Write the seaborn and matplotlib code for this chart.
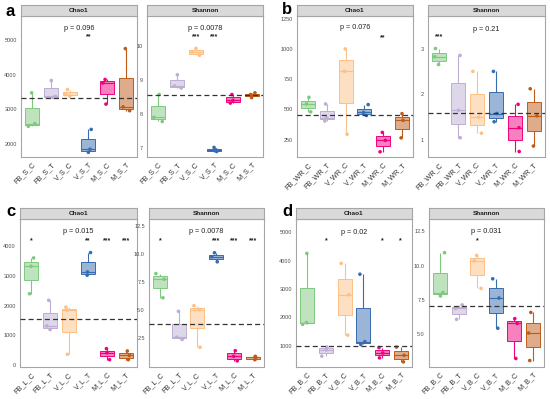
import numpy as np
import pandas as pd
import matplotlib
matplotlib.use("Agg")
import matplotlib.pyplot as plt
import seaborn as sns
from matplotlib.colors import to_rgba

sns.set_style("white")
plt.rcParams['font.family'] = ['Liberation Sans', 'DejaVu Sans']

palette = ["#7fc97f", "#beaed4", "#fdc086", "#386cb0", "#f0027f", "#bf5b17"]
facets = ["Chao1", "Shannon"]

# ---------------- data ----------------
a_groups = ["FB_S_C", "FB_S_T", "V_S_C", "V_S_T", "M_S_C", "M_S_T"]
a_chao1 = [[2510, 2590, 3475], [3340, 3370, 3830], [3380, 3420, 3570],
           [1760, 1850, 2420], [3150, 3760, 3860], [2960, 3070, 4750]]
a_shannon = [[7.78, 7.90, 8.57], [8.76, 8.82, 9.15], [9.72, 9.82, 9.92],
             [6.90, 6.95, 7.02], [8.32, 8.40, 8.57], [8.48, 8.57, 8.62]]
a_pvals = ["p = 0.096", "p = 0.0078"]
a_stars = [["", "", "", "**", "", ""], ["", "", "***", "***", "", ""]]
a_hline = [3317, 8.55]

b_groups = ["FB_WR_C", "FB_WR_T", "V_WR_C", "V_WR_T", "M_WR_C", "M_WR_T"]
b_chao1 = [[480, 545, 600], [405, 430, 545], [295, 815, 1000],
           [450, 475, 540], [150, 245, 310], [265, 410, 465]]
b_shannon = [[2.65, 2.82, 3.00], [1.05, 1.65, 2.85], [1.15, 1.50, 2.50],
             [1.40, 1.58, 2.50], [0.75, 1.27, 1.78], [0.87, 1.53, 2.12]]
b_pvals = ["p = 0.076", "p = 0.21"]
b_stars = [["", "", "", "", "**", ""], ["***", "", "", "", "", ""]]
b_hline = [458, 1.60]

c_groups = ["FB_L_C", "FB_L_T", "V_L_C", "V_L_T", "M_L_C", "M_L_T"]
c_chao1 = [[2400, 3320, 3600], [1200, 1320, 2180], [370, 1850, 1950],
           [3020, 3130, 3780], [190, 420, 560], [190, 330, 480]]
c_shannon = [[6.10, 7.75, 8.25], [2.40, 2.60, 4.90], [1.70, 5.05, 5.40],
             [9.30, 9.75, 10.10], [0.50, 0.90, 1.40], [0.60, 0.80, 0.90]]
c_pvals = ["p = 0.015", "p = 0.0078"]
c_stars = [["*", "", "", "**", "***", "***"], ["*", "", "", "***", "***", "***"]]
c_hline = [1540, 3.73]

d_groups = ["FB_B_C", "FB_B_T", "V_B_C", "V_B_T", "M_B_C", "M_B_T"]
d_chao1 = [[1760, 1820, 4250], [640, 860, 960], [1380, 2800, 3900],
           [1050, 1150, 3520], [580, 750, 940], [440, 670, 960]]
d_shannon = [[7.80, 8.05, 10.95], [6.10, 6.90, 7.15], [8.35, 10.35, 10.75],
             [5.45, 7.65, 9.05], [3.25, 5.80, 6.15], [3.10, 5.10, 6.60]]
d_pvals = ["p = 0.02", "p = 0.031"]
d_stars = [["", "*", "", "", "*", "*"], ["", "", "*", "", "", ""]]
d_hline = [1000, 7.04]

# ---------------- layout (pixels) ----------------
W, H = 550, 399
panels = [
    dict(letter="a", groups=a_groups, vals=[a_chao1, a_shannon], pv=a_pvals, st=a_stars, hl=a_hline,
         xs=[(21, 137), (147, 263)], yb=(16, 157), hdr=5, lpos=(10, 11),
         ylims=[(1625, 5690), (6.74, 10.87)],
         yticks=[[2000, 3000, 4000, 5000], [7, 8, 9, 10]],
         ylabs=[["2000", "3000", "4000", "5000"], ["7", "8", "9", "10"]],
         pys=[5330, 10.50], sys=[5100, 10.27]),
    dict(letter="b", groups=b_groups, vals=[b_chao1, b_shannon], pv=b_pvals, st=b_stars, hl=b_hline,
         xs=[(297, 413), (428, 545)], yb=(16, 157), hdr=5, lpos=(287, 10),
         ylims=[(107, 1272), (0.63, 3.71)],
         yticks=[[250, 500, 750, 1000, 1250], [1, 2, 3]],
         ylabs=[["250", "500", "750", "1000", "1250"], ["1", "2", "3"]],
         pys=[1175, 3.42], sys=[1094, 3.25]),
    dict(letter="c", groups=c_groups, vals=[c_chao1, c_shannon], pv=c_pvals, st=c_stars, hl=c_hline,
         xs=[(20, 137), (149, 264)], yb=(219, 367), hdr=208, lpos=(11, 212),
         ylims=[(-56, 4905), (-0.05, 13.1)],
         yticks=[[0, 1000, 2000, 3000, 4000], [2.5, 5.0, 7.5, 10.0, 12.5]],
         ylabs=[["0", "1000", "2000", "3000", "4000"], ["2.5", "5.0", "7.5", "10.0", "12.5"]],
         pys=[4470, 11.96], sys=[4180, 11.2]),
    dict(letter="d", groups=d_groups, vals=[d_chao1, d_shannon], pv=d_pvals, st=d_stars, hl=d_hline,
         xs=[(296, 412), (429, 544)], yb=(219, 367), hdr=208, lpos=(287, 211),
         ylims=[(259, 5460), (2.63, 13.4)],
         yticks=[[1000, 2000, 3000, 4000, 5000], [5.0, 7.5, 10.0, 12.5]],
         ylabs=[["1000", "2000", "3000", "4000", "5000"], ["5.0", "7.5", "10.0", "12.5"]],
         pys=[5000, 12.5], sys=[4690, 11.84]),
]

fig = plt.figure(figsize=(W / 100, H / 100), dpi=100)
np.random.seed(7)

border = "#a6a6a6"


def rect(x0, x1, ytop, ybot):
    return [x0 / W, 1 - ybot / H, (x1 - x0) / W, (ybot - ytop) / H]


for P in panels:
    fig.text(P["lpos"][0] / W, 1 - P["lpos"][1] / H, P["letter"], fontsize=12,
             fontweight="bold", ha="center", va="center", color="black")
    for k in range(2):
        x0, x1 = P["xs"][k]
        ax = fig.add_axes(rect(x0, x1, P["yb"][0], P["yb"][1]))
        groups = P["groups"]
        rows = []
        for g, vs in zip(groups, P["vals"][k]):
            for v in vs:
                rows.append((g, v))
        df = pd.DataFrame(rows, columns=["group", "value"])
        pal = dict(zip(groups, palette))
        sns.boxplot(data=df, x="group", y="value", hue="group", order=groups,
                    hue_order=groups, palette=pal, width=0.75, showfliers=False,
                    showcaps=False, legend=False, ax=ax, linewidth=0.7, whis=1.5)
        for p in ax.patches:
            vx = p.get_path().vertices[:, 0]
            i = int(round(vx.mean()))
            p.set_facecolor(to_rgba(palette[i], 0.5))
            p.set_edgecolor(palette[i])
            p.set_linewidth(0.7)
        for l in ax.lines:
            xd = np.asarray(l.get_xdata(), float)
            if len(xd) == 0:
                continue
            i = int(round(np.nanmean(xd)))
            l.set_color(palette[i])
            l.set_linewidth(0.8)
        sns.stripplot(data=df, x="group", y="value", hue="group", order=groups,
                      hue_order=groups, palette=pal, jitter=0.25, size=2.6,
                      linewidth=0, legend=False, ax=ax)
        ax.axhline(P["hl"][k], ls=(0, (4, 2.5)), color="#333333", lw=0.9, zorder=5)
        ax.set_xlim(-0.6, 5.6)
        ax.set_ylim(*P["ylims"][k])
        ax.set_yticks(P["yticks"][k])
        ax.set_yticklabels(P["ylabs"][k])
        ax.set_xlabel("")
        ax.set_ylabel("")
        ax.tick_params(axis="y", labelsize=4, colors="#4d4d4d", length=2, width=0.5, pad=1)
        ax.tick_params(axis="x", labelsize=5.2, colors="#333333", length=2, width=0.5, pad=1)
        for lab in ax.get_xticklabels():
            lab.set_rotation(45)
            lab.set_ha("right")
            lab.set_va("top")
            lab.set_rotation_mode("anchor")
        for s in ax.spines.values():
            s.set_color(border)
            s.set_linewidth(0.8)
        ax.text(2.5, P["pys"][k], P["pv"][k], ha="center", va="center", fontsize=5.2,
                color="#222222")
        for i, s in enumerate(P["st"][k]):
            if s:
                ax.text(i, P["sys"][k], s, ha="center", va="center", fontsize=5,
                        fontweight="bold", color="#222222")
        # strip header
        hx = fig.add_axes(rect(x0, x1, P["hdr"], P["yb"][0]))
        hx.set_facecolor("#d9d9d9")
        hx.set_xticks([])
        hx.set_yticks([])
        for s in hx.spines.values():
            s.set_color(border)
            s.set_linewidth(0.8)
        hx.text(0.5, 0.5, facets[k], ha="center", va="center", fontsize=4.6,
                fontweight="bold", color="#1a1a1a", transform=hx.transAxes)

fig.savefig("out.png", dpi=100)
